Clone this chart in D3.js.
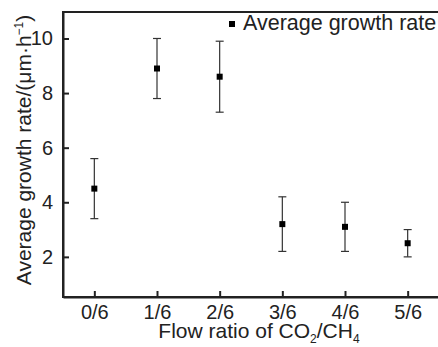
<!DOCTYPE html>
<html>
<head>
<meta charset="utf-8">
<script src="https://cdn.jsdelivr.net/npm/d3@7"></script>
<style>
  body { margin: 0; background: #fff; }
  svg { font-family: "Liberation Sans", Arial, sans-serif; }
</style>
</head>
<body>
<div id="chart"></div>
<script>
// Flow ratio categories and measured growth rates (µm/h)
var ratios = ["0/6", "1/6", "2/6", "3/6", "4/6", "5/6"];
var rates = [4.5, 8.9, 8.6, 3.2, 3.1, 2.5];
var errors = [1.1, 1.1, 1.3, 1.0, 0.9, 0.5];
var yTicks = [2, 4, 6, 8, 10];

var width = 438, height = 347;
var margin = { top: 12, right: -1, bottom: 50, left: 63 };

var svg = d3.select("#chart")
    .append("svg")
    .attr("width", width)
    .attr("height", height);

var x = d3.scaleLinear()
    .domain([-0.5, ratios.length - 0.5])
    .range([margin.left, width - margin.right]);
var y = d3.scaleLinear()
    .domain([0.53, 10.97])
    .range([height - margin.bottom, margin.top]);

// frame (right edge falls just outside the picture)
svg.append("rect")
    .attr("x", margin.left)
    .attr("y", margin.top)
    .attr("width", width - margin.right - margin.left)
    .attr("height", height - margin.bottom - margin.top)
    .attr("fill", "none")
    .attr("stroke", "#222")
    .attr("stroke-width", 2);

var xAxis = svg.append("g")
    .attr("transform", "translate(0," + (height - margin.bottom) + ")")
    .call(d3.axisBottom(x)
        .tickValues(d3.range(ratios.length))
        .tickFormat(function(i) { return ratios[i]; })
        .tickSizeInner(-6)
        .tickSizeOuter(0)
        .tickPadding(8));

var yAxis = svg.append("g")
    .attr("transform", "translate(" + margin.left + ",0)")
    .call(d3.axisLeft(y)
        .tickValues(yTicks)
        .tickSizeInner(-6)
        .tickSizeOuter(0)
        .tickPadding(10));

[xAxis, yAxis].forEach(function(ax) {
    ax.select(".domain").attr("stroke", "#222").attr("stroke-width", 2);
    ax.selectAll(".tick line").attr("stroke", "#222").attr("stroke-width", 2);
    ax.selectAll(".tick text")
        .attr("fill", "#222")
        .style("font-size", "20px")
        .style("font-family", "'Liberation Sans', Arial, sans-serif");
});

// error bars
var bars = svg.append("g")
    .selectAll("g")
    .data(rates)
    .enter()
    .append("g")
    .attr("stroke", "#333")
    .attr("stroke-width", 1.2);

bars.append("line")
    .attr("x1", function(d, i) { return x(i); })
    .attr("x2", function(d, i) { return x(i); })
    .attr("y1", function(d, i) { return y(d - errors[i]); })
    .attr("y2", function(d, i) { return y(d + errors[i]); });
bars.append("line")
    .attr("x1", function(d, i) { return x(i) - 4; })
    .attr("x2", function(d, i) { return x(i) + 4; })
    .attr("y1", function(d, i) { return y(d + errors[i]); })
    .attr("y2", function(d, i) { return y(d + errors[i]); });
bars.append("line")
    .attr("x1", function(d, i) { return x(i) - 4; })
    .attr("x2", function(d, i) { return x(i) + 4; })
    .attr("y1", function(d, i) { return y(d - errors[i]); })
    .attr("y2", function(d, i) { return y(d - errors[i]); });

svg.append("g")
    .selectAll("rect")
    .data(rates)
    .enter()
    .append("rect")
    .attr("x", function(d, i) { return x(i) - 3; })
    .attr("y", function(d) { return y(d) - 3; })
    .attr("width", 6)
    .attr("height", 6)
    .attr("fill", "#000");

// legend
svg.append("rect")
    .attr("x", 229)
    .attr("y", 21)
    .attr("width", 6)
    .attr("height", 6)
    .attr("fill", "#000");
svg.append("text")
    .attr("x", 243)
    .attr("y", 30)
    .attr("fill", "#222")
    .style("font-size", "21.5px")
    .text("Average growth rate");

// axis titles
var yLabel = svg.append("text")
    .attr("transform", "translate(31," + 150 + ")rotate(-90)")
    .attr("text-anchor", "middle")
    .attr("fill", "#222")
    .style("font-size", "21px");
yLabel.append("tspan").text("Average growth rate/(μm·h");
yLabel.append("tspan").attr("dy", -8).style("font-size", "12px").text("−1");
yLabel.append("tspan").attr("dy", 8).text(")");

var xLabel = svg.append("text")
    .attr("x", 259)
    .attr("y", 338)
    .attr("text-anchor", "middle")
    .attr("fill", "#222")
    .style("font-size", "21px");
xLabel.append("tspan").text("Flow ratio of CO");
xLabel.append("tspan").attr("dy", 5).style("font-size", "12px").text("2");
xLabel.append("tspan").attr("dy", -5).text("/CH");
xLabel.append("tspan").attr("dy", 5).style("font-size", "12px").text("4");
</script>
</body>
</html>
